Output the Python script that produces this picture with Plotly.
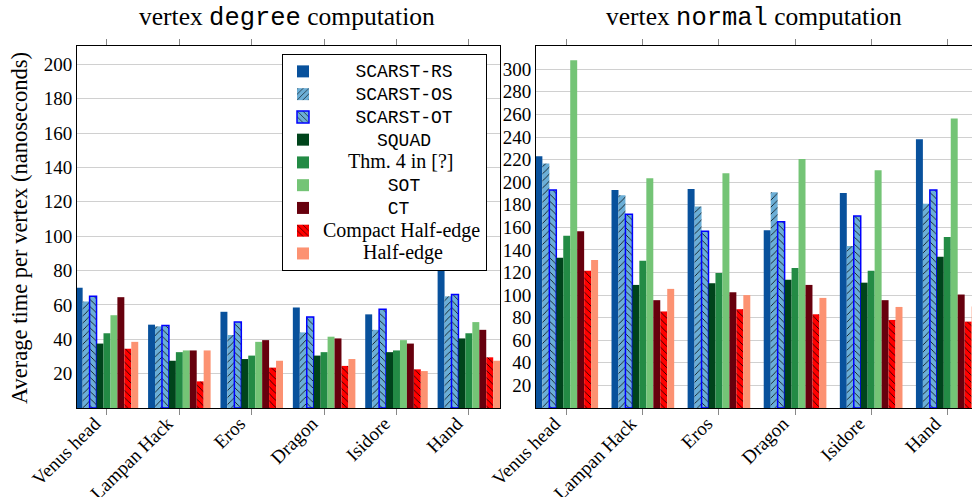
import plotly.graph_objects as go

# ---------------- data ----------------
categories = ["Venus head", "Lampan Hack", "Eros", "Dragon", "Isidore", "Hand"]
series_names = ["SCARST-RS", "SCARST-OS", "SCARST-OT", "SQUAD", "Thm. 4 in [?]",
                "SOT", "CT", "Compact Half-edge", "Half-edge"]

# vertex degree computation (ns)
deg_rs = [70, 48.5, 56, 58.5, 54.5, 88]
deg_os = [62, 47.5, 42.5, 44, 45.5, 65]
deg_ot = [65, 48, 50, 53, 57.5, 66]
deg_squad = [37.5, 27.5, 28.5, 30.5, 32.5, 40.5]
deg_thm4 = [43.5, 32.5, 30.5, 32.5, 33.5, 43.5]
deg_sot = [54, 33.5, 38.5, 41.5, 39.5, 50]
deg_ct = [64.5, 33.5, 39.5, 40.5, 37.5, 45.5]
deg_che = [34.5, 15.5, 23.5, 24.5, 22.5, 29.5]
deg_he = [38.5, 33.5, 27.5, 28.5, 21.5, 27.5]

# vertex normal computation (ns)
nor_rs = [223, 193, 194, 157.5, 190.5, 238]
nor_os = [216.5, 188.5, 178.5, 191, 143.5, 181]
nor_ot = [193, 171.5, 156.5, 165, 170, 193]
nor_squad = [133, 109, 110.5, 113.5, 111, 134]
nor_thm4 = [152.5, 130.5, 119.5, 124, 121.5, 151.5]
nor_sot = [308, 203.5, 208, 220.5, 210.5, 256.5]
nor_ct = [156.5, 95.5, 102.5, 109, 95.5, 100.5]
nor_che = [121.5, 85.5, 87.5, 83, 78, 76.5]
nor_he = [131, 105.5, 100, 97.5, 89.5, 90]

degree_series = [deg_rs, deg_os, deg_ot, deg_squad, deg_thm4, deg_sot, deg_ct, deg_che, deg_he]
normal_series = [nor_rs, nor_os, nor_ot, nor_squad, nor_thm4, nor_sot, nor_ct, nor_che, nor_he]

# ---------------- style ----------------
colors = ["#08519c", "#6baed6", "#6baed6", "#00441b", "#238b45",
          "#74c476", "#67000d", "#ff0000", "#fc9272"]
patterns = ["", "/", "\\", "", "", "", "", "\\", ""]
outline = [None, None, "#0000ff", None, None, None, None, None, None]
mono = [True, True, True, True, False, True, True, False, False]
center_pad = [3, 3, 3, 5, 5, 6, 6, 0, 8]   # non-breaking spaces to centre legend text

SERIF = "Liberation Serif"
MONO = "Liberation Mono"

n = len(series_names)
w_left = 0.096
w_right = 0.0915


def marker_for(i):
    m = dict(color=colors[i])
    if outline[i]:
        m["line"] = dict(color=outline[i], width=1.5)
    else:
        m["line"] = dict(width=0)
    if patterns[i]:
        m["pattern"] = dict(shape=patterns[i], fgcolor="black", bgcolor=colors[i],
                            size=5, solidity=0.15, fillmode="replace")
    return m


def label(i):
    pad = "\u00a0" * center_pad[i]
    if mono[i]:
        return "<span style='font-family:%s;font-size:18px'>%s%s</span>" % (MONO, pad, series_names[i])
    return "<span style='font-size:20px'>%s%s</span>" % (pad, series_names[i])


fig = go.Figure()
for i in range(n):
    fig.add_trace(go.Bar(
        x=categories, y=degree_series[i], name=label(i), legendgroup=series_names[i],
        width=w_left, offset=(-n / 2 + i) * w_left,
        marker=marker_for(i), xaxis="x", yaxis="y", showlegend=True))
for i in range(n):
    fig.add_trace(go.Bar(
        x=categories, y=normal_series[i], name=label(i), legendgroup=series_names[i],
        width=w_right, offset=(-n / 2 + i) * w_right,
        marker=marker_for(i), xaxis="x2", yaxis="y2", showlegend=False))

W, H = 972, 497
top, bottom = 46, 408

xcommon = dict(type="category", tickangle=-45, ticks="outside", ticklen=6,
               tickcolor="#888888", showline=True, linecolor="black", linewidth=1,
               mirror="ticks", showgrid=False, automargin=False,
               ticklabelstandoff=-10, ticklabelshift=-12,
               tickfont=dict(family=SERIF, size=19, color="black"))
ycommon = dict(showgrid=True, gridcolor="#d0d0d0", gridwidth=1, showline=True,
               linecolor="black", linewidth=1, mirror=True, ticks="",
               zeroline=False, automargin=False,
               tickfont=dict(family=SERIF, size=19, color="black"))

fig.update_layout(
    width=W, height=H,
    margin=dict(l=0, r=0, t=top, b=H - bottom, pad=0, autoexpand=False),
    paper_bgcolor="white", plot_bgcolor="white",
    barmode="overlay",
    xaxis=dict(domain=[77 / W, 500 / W], range=[-0.414, 5.43], anchor="y", **xcommon),
    xaxis2=dict(domain=[536 / W, 1.0], range=[-0.404, 5.325], anchor="y2", **xcommon),
    yaxis=dict(domain=[0, 1], range=[0, 210.7], anchor="x",
               tickvals=list(range(20, 201, 20)), **ycommon),
    yaxis2=dict(domain=[0, 1], range=[0, 320.6], anchor="x2",
                tickvals=list(range(20, 301, 20)), **ycommon),
    legend=dict(x=282 / W, y=(bottom - 54) / (bottom - top), xanchor="left", yanchor="top",
                bgcolor="white", bordercolor="black", borderwidth=1,
                font=dict(family=SERIF, size=15.2, color="black"),
                traceorder="normal", tracegroupgap=0, itemwidth=30),
    font=dict(family=SERIF, color="black"),
    annotations=[
        dict(text="vertex <span style='font-family:%s'>degree</span> computation" % MONO,
             xref="paper", yref="paper", x=286.5 / W, y=(bottom - 17) / (bottom - top),
             xanchor="center", yanchor="middle", showarrow=False,
             font=dict(family=SERIF, size=25.5, color="black")),
        dict(text="vertex <span style='font-family:%s'>normal</span> computation" % MONO,
             xref="paper", yref="paper", x=754 / W, y=(bottom - 17) / (bottom - top),
             xanchor="center", yanchor="middle", showarrow=False,
             font=dict(family=SERIF, size=25.5, color="black")),
        dict(text="Average time per vertex (nanoseconds)",
             xref="paper", yref="paper", x=20 / W, y=(bottom - 228) / (bottom - top),
             xanchor="center", yanchor="middle", showarrow=False, textangle=-90,
             font=dict(family=SERIF, size=22.5, color="black")),
    ],
)

fig.write_html("out.html", config={"displayModeBar": False},
               post_script="document.body.style.margin='0px';document.body.style.overflow='hidden';")
